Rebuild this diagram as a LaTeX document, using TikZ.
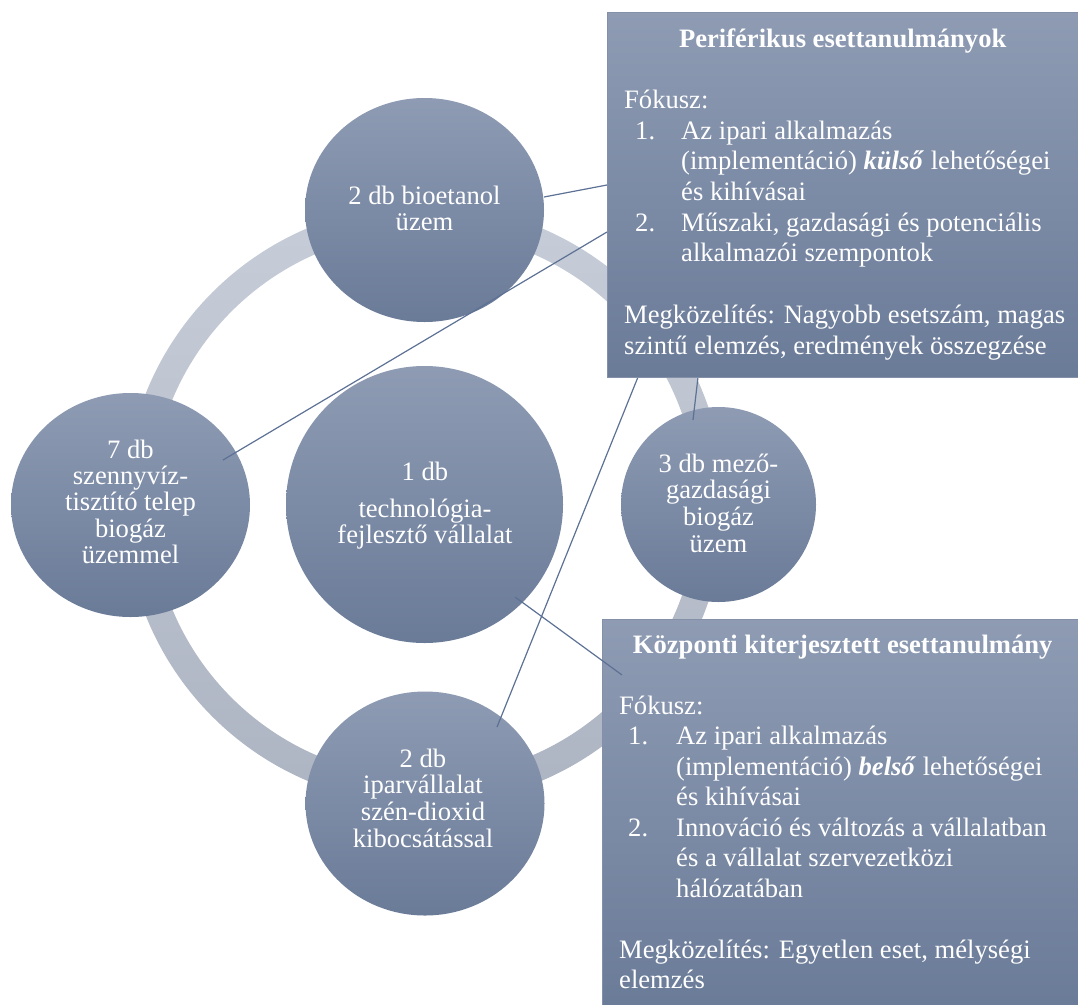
\documentclass[tikz,border=0pt]{standalone}
\usepackage{fontspec}
\setmainfont{Liberation Serif}
\usetikzlibrary{shapes.geometric}

\definecolor{discTop}{HTML}{8E9BB3}
\definecolor{discBot}{HTML}{6A7B98}
\definecolor{ringTop}{HTML}{C7CDD8}
\definecolor{ringBot}{HTML}{ADB4C2}
\definecolor{panelEdge}{HTML}{8390A8}
\definecolor{leader}{HTML}{5D7195}

% one centred line of a disc label
\newcommand\cenline[1]{\hbox to 0pt{\hss#1\hss}}
% numbered list line and its continuation lines
\newcommand\itemhead[3]{\hbox{\hbox to 57pt{\hskip#1\relax #2\hss}#3}}
\newcommand\itemcont[1]{\hbox{\hskip57pt\relax #1}}

\tikzset{
  disc/.style={ellipse, inner sep=0pt, top color=discTop, bottom color=discBot, draw=none},
  round disc/.style={circle, inner sep=0pt, top color=discTop, bottom color=discBot, draw=none},
  panel/.style={rectangle, inner sep=0pt, anchor=north west, top color=discTop,
                bottom color=discBot, draw=panelEdge, line width=0.8pt},
  disclabel/.style={anchor=base, inner sep=0pt, text=white,
                    font=\fontsize{26.6}{26.6}\selectfont},
  paneltext/.style={anchor=base west, inner sep=0pt, text=white,
                    font=\fontsize{26.6}{30.7}\selectfont},
  leaderline/.style={draw=leader, line width=1.2pt},
}

\begin{document}
\begin{tikzpicture}[x=1pt,y=-1pt]
\useasboundingbox (0,0) rectangle (1078,1004);

% the ring joining the outer discs
\shade[top color=ringTop, bottom color=ringBot, even odd rule]
  (424.5,504.5) circle (300) (424.5,504.5) circle (273);

% discs
\node[disc, minimum width=239pt, minimum height=224pt] (bio) at (424.5,210) {};
\node[disc, minimum width=239pt, minimum height=224pt] (waste) at (130.5,505) {};
\node[disc, minimum width=239pt, minimum height=224pt] (ind) at (425,803.5) {};
\node[round disc, minimum size=277pt] (tech) at (424.5,504.5) {};
\node[round disc, minimum size=195pt] (agri) at (718.5,504.5) {};

% disc labels
\node[disclabel] (biotxt) at (424.5,204) {\vtop{\baselineskip=26.6pt
  \cenline{2 db bioetanol}\cenline{üzem}}};
\node[disclabel] (wastetxt) at (130.5,458) {\vtop{\baselineskip=26.4pt
  \cenline{7 db}\cenline{szennyvíz-}\cenline{tisztító telep}\cenline{biogáz}\cenline{üzemmel}}};
\node[disclabel] (techtxt) at (425,480) {\vtop{\baselineskip=26.6pt
  \cenline{1 db}\vskip10.5pt\cenline{technológia-}\cenline{fejlesztő vállalat}}};
\node[disclabel] (agritxt) at (718.5,472) {\vtop{\baselineskip=26.7pt
  \cenline{3 db mező-}\cenline{gazdasági}\cenline{biogáz}\cenline{üzem}}};
\node[disclabel] (indtxt) at (423,767) {\vtop{\baselineskip=26.7pt
  \cenline{2 db}\cenline{iparvállalat}\cenline{szén-dioxid}\cenline{kibocsátással}}};

% leader line end points
\coordinate (p1a) at (544,197);  \coordinate (p1b) at (607,185);
\coordinate (p2a) at (223,460);  \coordinate (p2b) at (607,232);
\coordinate (p3a) at (497,727);  \coordinate (p3b) at (638,377);
\coordinate (p4a) at (693,420);  \coordinate (p4b) at (698,377);
\coordinate (c5a) at (515,597);  \coordinate (c5b) at (622,675);

\draw[leaderline] (p1a) -- (p1b);
\draw[leaderline] (p2a) -- (p2b);
\draw[leaderline] (p3a) -- (p3b);
\draw[leaderline] (p4a) -- (p4b);

% peripheral studies panel
\node[panel, minimum width=476pt, minimum height=365pt] (periph) at (607,12) {};
\node[paneltext] (periphtxt) at (624,47) {\vtop{\baselineskip=30.7pt
  \hbox to 437pt{\hss\bfseries Periférikus esettanulmányok\hss}
  \hbox{}
  \hbox{Fókusz:}
  \itemhead{11pt}{1.}{Az ipari alkalmazás}
  \itemcont{(implementáció) \textbf{\textit{külső}} lehetőségei}
  \itemcont{és kihívásai}
  \itemhead{11pt}{2.}{Műszaki, gazdasági és potenciális}
  \itemcont{alkalmazói szempontok}
  \hbox{}
  \hbox{Megközelítés: Nagyobb esetszám, magas}
  \hbox{szintű elemzés, eredmények összegzése}}};

% central extended study panel
\node[panel, minimum width=482pt, minimum height=392pt] (central) at (602,619) {};
\node[paneltext] (centraltxt) at (619,653) {\vtop{\baselineskip=30.5pt
  \hbox to 447pt{\hss\bfseries Központi kiterjesztett esettanulmány\hss}
  \hbox{}
  \hbox{Fókusz:}
  \itemhead{9pt}{1.}{Az ipari alkalmazás}
  \itemcont{(implementáció) \textbf{\textit{belső}} lehetőségei}
  \itemcont{és kihívásai}
  \itemhead{9pt}{2.}{Innováció és változás a vállalatban}
  \itemcont{és a vállalat szervezetközi}
  \itemcont{hálózatában}
  \hbox{}
  \hbox{Megközelítés: Egyetlen eset, mélységi}
  \hbox{elemzés}}};

\draw[leaderline] (c5a) -- (c5b);
\end{tikzpicture}
\end{document}
